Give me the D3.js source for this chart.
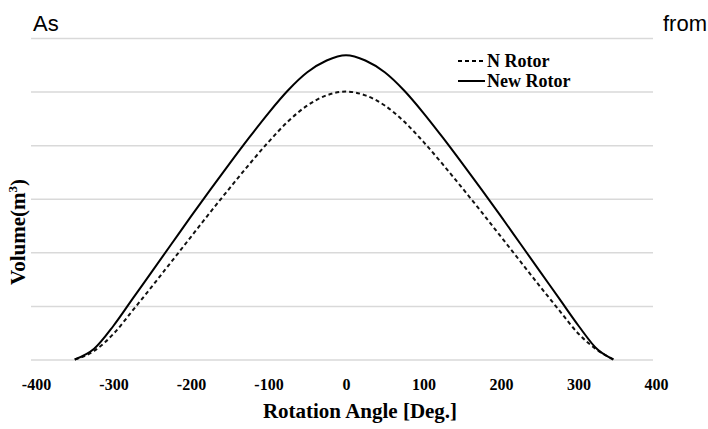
<!DOCTYPE html>
<html>
<head>
<meta charset="utf-8">
<script src="https://cdn.jsdelivr.net/npm/d3@7"></script>
<style>
  body { margin: 0; background: #fff; }
  svg { display: block; }
</style>
</head>
<body>
<svg id="chart"></svg>
<script>
// rotation angle in degrees
const angles = [-350, -325, -300, -275, -250, -225, -200, -175, -150, -125, -100, -75, -50, -25,
  0, 25, 50, 75, 100, 125, 150, 175, 200, 225, 250, 275, 300, 325, 345];

// volume (no axis labels in the source, grid step = 1 unit)
const nRotor = [0.0, 0.16, 0.48, 0.92, 1.37, 1.83, 2.29, 2.75, 3.20, 3.64, 4.06, 4.44, 4.74, 4.93,
  5.0, 4.93, 4.74, 4.44, 4.06, 3.64, 3.20, 2.75, 2.29, 1.83, 1.37, 0.92, 0.48, 0.17, 0.0];
const newRotor = [0.0, 0.20, 0.63, 1.14, 1.65, 2.16, 2.67, 3.17, 3.66, 4.14, 4.60, 5.02, 5.36, 5.58,
  5.68, 5.58, 5.36, 5.02, 4.60, 4.14, 3.66, 3.17, 2.67, 2.16, 1.65, 1.14, 0.63, 0.18, 0.0];

const xTicks = [-400, -300, -200, -100, 0, 100, 200, 300, 400];
const yGrid = [0, 1, 2, 3, 4, 5, 6];

const seriesNames = ["N Rotor", "New Rotor"];

const W = 708, H = 429;
const margin = {top: 38, right: 55, bottom: 69.5, left: 31};
const width = W - margin.left - margin.right;
const height = H - margin.top - margin.bottom;

const svg = d3.select("#chart").attr("width", W).attr("height", H);

const serif = "'Liberation Serif', 'Times New Roman', serif";
const sans = "'Liberation Sans', Arial, sans-serif";

// stray page words around the figure
svg.append("text").attr("x", 33).attr("y", 31)
  .attr("font-family", sans).attr("font-size", 22)
  .text("As");
svg.append("text").attr("x", 707).attr("y", 31).attr("text-anchor", "end")
  .attr("font-family", sans).attr("font-size", 22)
  .text("from");

const g = svg.append("g").attr("transform", "translate(" + margin.left + "," + margin.top + ")");

const x = d3.scaleLinear().domain([-400, 400]).range([36 - margin.left, 656 - margin.left]);
const y = d3.scaleLinear().domain([0, 6]).range([height, 0]);

// horizontal grid lines
const grid = g.append("g")
  .call(d3.axisLeft(y).tickValues(yGrid).tickSize(-width).tickFormat(""));
grid.select(".domain").remove();
grid.selectAll("line").attr("stroke", "#d9d9d9").attr("stroke-width", 1.5);

// x axis labels only (plain hyphen for negatives)
const xAxis = g.append("g")
  .attr("transform", "translate(0," + height + ")")
  .call(d3.axisBottom(x).tickValues(xTicks).tickSize(0).tickPadding(19).tickFormat(d => String(d)));
xAxis.select(".domain").remove();
xAxis.selectAll("text")
  .attr("font-family", serif).attr("font-size", 16).attr("font-weight", "bold").attr("fill", "#000");

const line = d3.line()
  .x((d, i) => x(angles[i]))
  .y(d => y(d))
  .curve(d3.curveMonotoneX);

g.append("path").datum(nRotor)
  .attr("d", line).attr("fill", "none")
  .attr("stroke", "#111").attr("stroke-width", 2).attr("stroke-dasharray", "4,3");

g.append("path").datum(newRotor)
  .attr("d", line).attr("fill", "none")
  .attr("stroke", "#000").attr("stroke-width", 2);

// axis titles
svg.append("text")
  .attr("x", 360).attr("y", 418).attr("text-anchor", "middle")
  .attr("font-family", serif).attr("font-size", 21).attr("font-weight", "bold")
  .text("Rotation Angle [Deg.]");

const yt = svg.append("text")
  .attr("transform", "translate(25,232) rotate(-90)")
  .attr("text-anchor", "middle")
  .attr("font-family", serif).attr("font-size", 21).attr("font-weight", "bold");
yt.append("tspan").text("Volume(m");
yt.append("tspan").attr("font-size", 13).attr("dy", -8).text("3");
yt.append("tspan").attr("dy", 8).text(")");

// legend
const legend = svg.append("g").attr("transform", "translate(458,0)");
const dashes = ["4,3", null];
seriesNames.forEach((name, i) => {
  const ly = 61 + i * 20;
  legend.append("line")
    .attr("x1", 0).attr("x2", 27).attr("y1", ly).attr("y2", ly)
    .attr("stroke", "#000").attr("stroke-width", 2)
    .attr("stroke-dasharray", dashes[i]);
  legend.append("text")
    .attr("x", 29).attr("y", ly + 6)
    .attr("font-family", serif).attr("font-size", 18).attr("font-weight", "bold")
    .text(name);
});
</script>
</body>
</html>
